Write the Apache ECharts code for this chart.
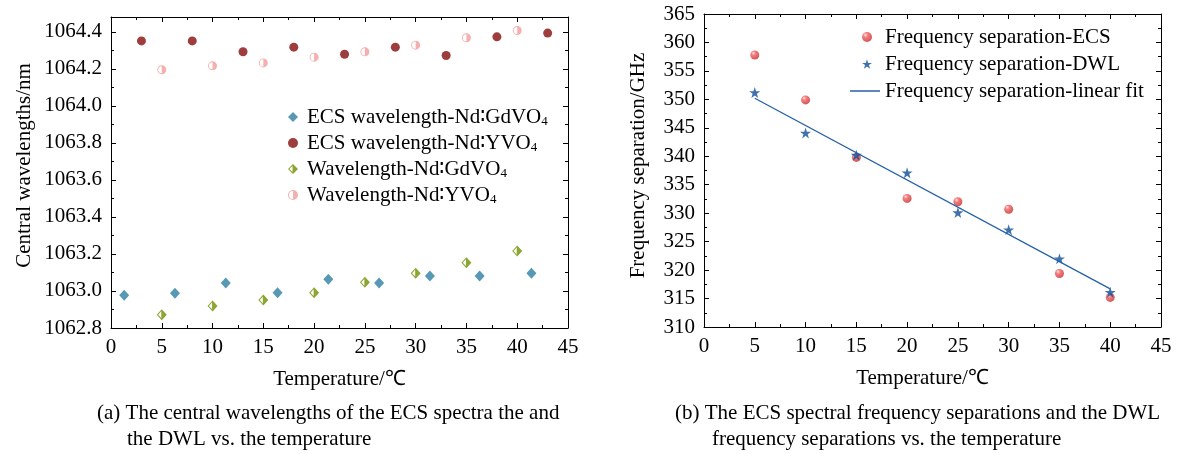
<!DOCTYPE html>
<html>
<head>
<meta charset="utf-8">
<script src="https://cdn.jsdelivr.net/npm/echarts@6/dist/echarts.min.js"></script>
<style>
  html, body { margin: 0; padding: 0; background: #fff; }
  #chart { width: 1179px; height: 454px; }
</style>
</head>
<body>
<div id="chart"></div>
<script>
// (a) central wavelengths
const tempEcsGd = [1.3, 6.3, 11.3, 16.4, 21.4, 26.4, 31.4, 36.3, 41.4];
const ecsGd = [1062.977, 1062.988, 1063.043, 1062.991, 1063.063, 1063.043, 1063.081, 1063.081, 1063.096];
const tempEcsY = [3, 8, 13, 18, 23, 28, 33, 38, 43];
const ecsY = [1064.351, 1064.351, 1064.292, 1064.317, 1064.279, 1064.317, 1064.272, 1064.373, 1064.393];
const tempDwl = [5, 10, 15, 20, 25, 30, 35, 40];
const dwlGd = [1062.872, 1062.919, 1062.951, 1062.991, 1063.047, 1063.096, 1063.153, 1063.216];
const dwlY = [1064.195, 1064.216, 1064.232, 1064.263, 1064.292, 1064.328, 1064.368, 1064.407];

// (b) frequency separations
const tempSep = [5, 10, 15, 20, 25, 30, 35, 40];
const sepEcs = [357.8, 349.9, 339.8, 332.6, 332.0, 330.7, 319.4, 315.2];
const sepDwl = [351.2, 344.1, 340.2, 337.1, 330.1, 327.1, 322.0, 316.1];
const fitX = [5, 40];
const fitY = [350.2, 316.7];

const namesA = ['ECS wavelength-Nd∶GdVO4', 'ECS wavelength-Nd∶YVO4', 'Wavelength-Nd∶GdVO4', 'Wavelength-Nd∶YVO4'];
const namesB = ['Frequency separation-ECS', 'Frequency separation-DWL', 'Frequency separation-linear fit'];

const FONT = 'Liberation Serif';

// half filled markers (right half solid, left half outlined)
const halfDiamond = 'path://M10 0L20 10L10 20ZM10 0L10 20L0 10ZM9 3.83L2.83 10L9 16.17Z';
const halfCircle = 'path://M10 0A10 10 0 0 1 10 20ZM10 20A10 10 0 0 1 10 0ZM10 2A8 8 0 0 0 10 18Z';
const star = 'path://M50 0L61.8 35.4L100 35.4L69.1 57.3L80.9 92.7L50 70.8L19.1 92.7L30.9 57.3L0 35.4L38.2 35.4Z';

function zip(xs, ys) {
    return xs.map((x, i) => [x, ys[i]]);
}

function frameAxis(extra) {
    return Object.assign({
        type: 'value',
        axisLine: { show: true, onZero: false, lineStyle: { color: '#000', width: 1 } },
        axisTick: { show: true, inside: true, length: 5, lineStyle: { color: '#000' } },
        minorTick: { show: true, splitNumber: 2, length: 3, lineStyle: { color: '#000' } },
        splitLine: { show: false },
        axisLabel: { show: false }
    }, extra);
}

const tickLabel = { show: true, color: '#000', fontFamily: FONT, fontSize: 21, margin: 9 };
const nameStyle = { color: '#000', fontFamily: FONT, fontSize: 21 };
const legendText = { color: '#000', fontFamily: FONT, fontSize: 21, lineHeight: 22 };

const myChart = echarts.init(document.getElementById('chart'));

const option = {
    animation: false,
    textStyle: { fontFamily: FONT },
    grid: [
        { left: 111, top: 17, width: 457, height: 311 },
        { left: 704, top: 14, width: 457, height: 313 }
    ],
    xAxis: [
        frameAxis({ gridIndex: 0, position: 'bottom', min: 0, max: 45, interval: 5,
            axisLabel: tickLabel, name: 'Temperature/℃', nameLocation: 'middle', nameGap: 41,
            nameTextStyle: nameStyle }),
        frameAxis({ gridIndex: 0, position: 'top', min: 0, max: 45, interval: 5 }),
        frameAxis({ gridIndex: 1, position: 'bottom', min: 0, max: 45, interval: 5,
            axisLabel: tickLabel, name: 'Temperature/℃', nameLocation: 'middle', nameGap: 41,
            nameTextStyle: Object.assign({ padding: [0, 20, 0, 0] }, nameStyle) }),
        frameAxis({ gridIndex: 1, position: 'top', min: 0, max: 45, interval: 5 })
    ],
    yAxis: [
        frameAxis({ gridIndex: 0, position: 'left', min: 1062.8, max: 1064.48, interval: 0.2,
            axisLabel: Object.assign({ showMaxLabel: false, formatter: v => v.toFixed(1) }, tickLabel),
            name: 'Central wavelengths/nm', nameLocation: 'middle', nameGap: 76,
            nameTextStyle: Object.assign({ padding: [0, 0, 0, 14] }, nameStyle) }),
        frameAxis({ gridIndex: 0, position: 'right', min: 1062.8, max: 1064.48, interval: 0.2 }),
        frameAxis({ gridIndex: 1, position: 'left', min: 310, max: 365, interval: 5,
            axisLabel: tickLabel,
            name: 'Frequency separation/GHz', nameLocation: 'middle', nameGap: 55,
            nameTextStyle: Object.assign({ padding: [0, 0, 0, 10] }, nameStyle) }),
        frameAxis({ gridIndex: 1, position: 'right', min: 310, max: 365, interval: 5 })
    ],
    legend: [
        {
            data: namesA,
            orient: 'vertical',
            left: 283,
            top: 101,
            itemWidth: 10,
            itemHeight: 10,
            itemGap: 4,
            textStyle: Object.assign({
                padding: [0, 0, 0, 4],
                rich: { sub: { fontFamily: FONT, fontSize: 13, lineHeight: 22, verticalAlign: 'bottom', color: '#000' } }
            }, legendText),
            formatter: name => name.replace(/4$/, '{sub|4}')
        },
        {
            data: namesB.slice(0, 2),
            orient: 'vertical',
            left: 857,
            top: 21,
            itemWidth: 10,
            itemHeight: 10,
            itemGap: 5,
            textStyle: Object.assign({ padding: [0, 0, 0, 8] }, legendText)
        },
        {
            data: [{ name: namesB[2], icon: 'rect' }],
            orient: 'vertical',
            left: 845,
            top: 75,
            itemWidth: 30,
            itemHeight: 1.5,
            textStyle: legendText
        }
    ],
    series: [
        {
            name: namesA[0], type: 'scatter', xAxisIndex: 0, yAxisIndex: 0,
            symbol: 'diamond', symbolSize: [10, 11],
            itemStyle: { color: '#2d7ea1' },
            data: zip(tempEcsGd, ecsGd)
        },
        {
            name: namesA[1], type: 'scatter', xAxisIndex: 0, yAxisIndex: 0,
            symbol: 'circle', symbolSize: 9,
            itemStyle: { color: '#860c0c' },
            data: zip(tempEcsY, ecsY)
        },
        {
            name: namesA[2], type: 'scatter', xAxisIndex: 0, yAxisIndex: 0,
            symbol: halfDiamond, symbolSize: [10, 11],
            itemStyle: { color: '#6f9000' },
            data: zip(tempDwl, dwlGd)
        },
        {
            name: namesA[3], type: 'scatter', xAxisIndex: 0, yAxisIndex: 0,
            symbol: halfCircle, symbolSize: 9,
            itemStyle: { color: '#f19b9b' },
            data: zip(tempDwl, dwlY)
        },
        {
            name: namesB[0], type: 'scatter', xAxisIndex: 2, yAxisIndex: 2,
            symbol: 'circle', symbolSize: 9,
            itemStyle: {
                color: {
                    type: 'radial', x: 0.35, y: 0.3, r: 0.75,
                    colorStops: [
                        { offset: 0, color: '#ffe0e0' },
                        { offset: 0.3, color: '#f06060' },
                        { offset: 1, color: '#c82828' }
                    ]
                }
            },
            data: zip(tempSep, sepEcs)
        },
        {
            name: namesB[1], type: 'scatter', xAxisIndex: 2, yAxisIndex: 2,
            symbol: star, symbolSize: 11,
            itemStyle: { color: '#0f4f98' },
            data: zip(tempSep, sepDwl)
        },
        {
            name: namesB[2], type: 'line', xAxisIndex: 2, yAxisIndex: 2,
            symbol: 'none',
            lineStyle: { color: '#2560a8', width: 1.3 },
            itemStyle: { color: '#2560a8' },
            data: zip(fitX, fitY)
        }
    ],
    graphic: [
        { type: 'text', left: 97, top: 403, style: { text: '(a) The central wavelengths of the ECS spectra the and', font: '21px ' + FONT, fill: '#000' } },
        { type: 'text', left: 127, top: 429, style: { text: 'the DWL vs. the temperature', font: '21px ' + FONT, fill: '#000' } },
        { type: 'text', left: 675, top: 403, style: { text: '(b) The ECS spectral frequency separations and the DWL', font: '21px ' + FONT, fill: '#000' } },
        { type: 'text', left: 712, top: 429, style: { text: 'frequency separations vs. the temperature', font: '21px ' + FONT, fill: '#000' } }
    ]
};

myChart.setOption(option);
window.onresize = myChart.resize;
</script>
</body>
</html>
